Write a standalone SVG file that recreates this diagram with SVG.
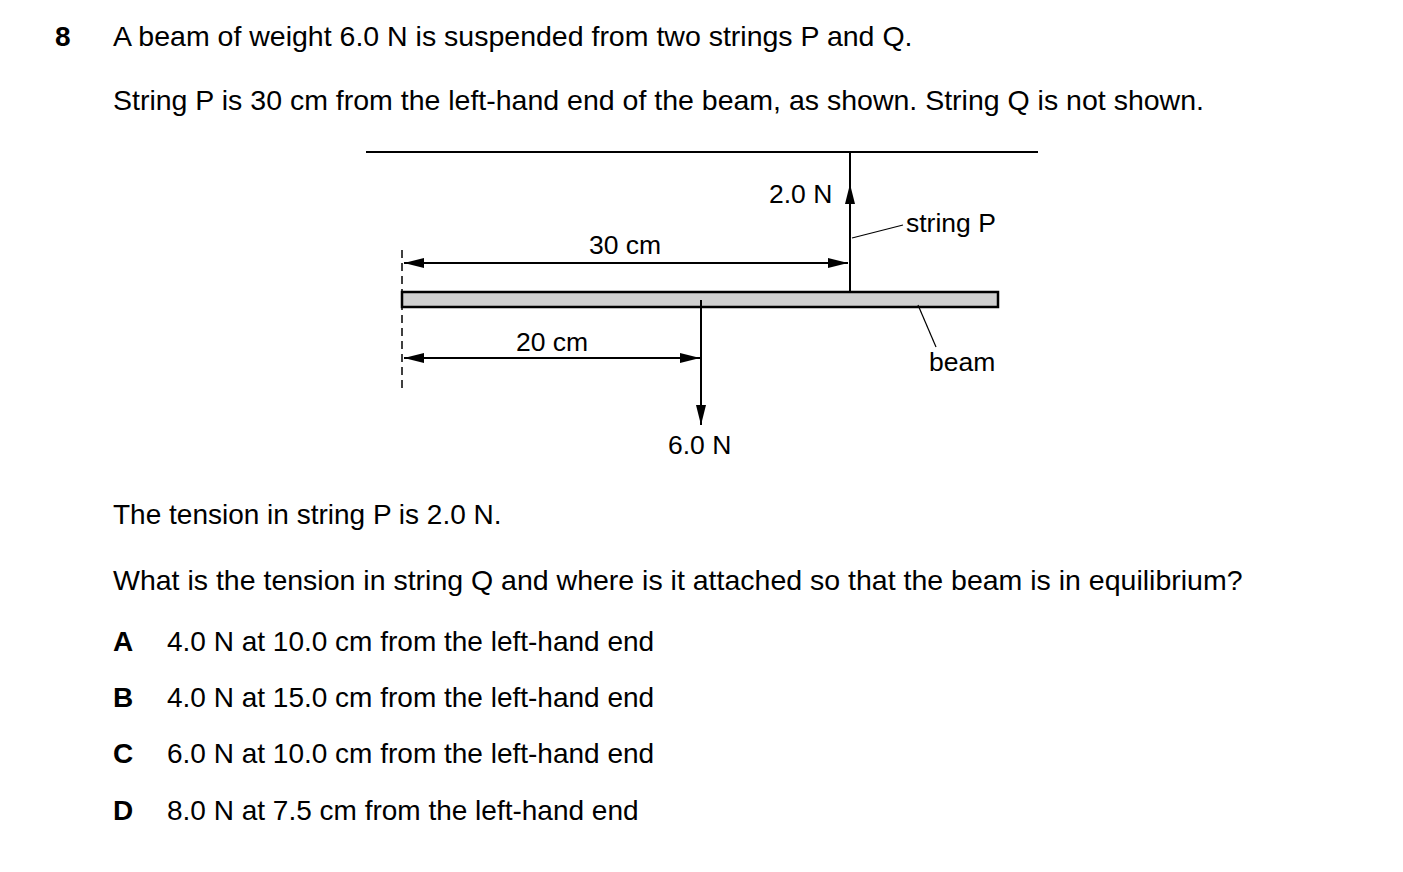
<svg xmlns="http://www.w3.org/2000/svg" width="1403" height="872" viewBox="0 0 1403 872">
<defs>
<marker id="ah" viewBox="0 0 20 10" refX="20" refY="5" markerWidth="20" markerHeight="10" markerUnits="userSpaceOnUse" orient="auto"><path d="M0,0 L20,5 L0,10 z" fill="#000"/></marker>
<style>
text{font-family:"Liberation Sans",Arial,sans-serif;font-size:28px;fill:#000}
.t{font-size:28.5px}
.l{font-size:26.5px}
.b{font-weight:bold}
.ln{stroke:#000;stroke-width:2;fill:none}
</style>
</defs>
<rect width="1403" height="872" fill="#fff"/>
<text x="55" y="46" class="b">8</text>
<text x="113" y="46" class="t">A beam of weight 6.0 N is suspended from two strings P and Q.</text>
<text x="113" y="110" class="t">String P is 30 cm from the left-hand end of the beam, as shown. String Q is not shown.</text>
<g id="ceiling"><line class="ln" x1="366" y1="152" x2="1038" y2="152"/></g>
<g id="beam"><rect x="402" y="292" width="596" height="15" fill="#d0d0d0" stroke="#000" stroke-width="2.5"/></g>
<g id="connectors">
<line class="ln" x1="850" y1="152" x2="850" y2="292"/>
<line class="ln" x1="850" y1="240" x2="850" y2="184" marker-end="url(#ah)"/>
<line x1="402" y1="250" x2="402" y2="392" stroke="#000" stroke-width="1.5" stroke-dasharray="8,5"/>
<line class="ln" x1="426" y1="263" x2="848" y2="263" marker-end="url(#ah)"/>
<line class="ln" x1="426" y1="263" x2="404" y2="263" marker-end="url(#ah)"/>
<line class="ln" x1="426" y1="358" x2="700" y2="358" marker-end="url(#ah)"/>
<line class="ln" x1="426" y1="358" x2="404" y2="358" marker-end="url(#ah)"/>
<line class="ln" x1="701" y1="300" x2="701" y2="425" marker-end="url(#ah)"/>
<line stroke="#000" stroke-width="1.2" x1="852" y1="238" x2="903" y2="225"/>
<line stroke="#000" stroke-width="1.2" x1="918" y1="305" x2="936" y2="347"/>
</g>
<g id="labels">
<text x="769" y="203" class="l">2.0 N</text>
<text x="906" y="232" class="l">string P</text>
<text x="589" y="254" class="l">30 cm</text>
<text x="516" y="351" class="l">20 cm</text>
<text x="929" y="371" class="l">beam</text>
<text x="668" y="454" class="l">6.0 N</text>
</g>
<text x="113" y="524">The tension in string P is 2.0 N.</text>
<text x="113" y="590" class="t">What is the tension in string Q and where is it attached so that the beam is in equilibrium?</text>
<text x="113" y="651" class="b">A</text><text x="167" y="651">4.0 N at 10.0 cm from the left-hand end</text>
<text x="113" y="707" class="b">B</text><text x="167" y="707">4.0 N at 15.0 cm from the left-hand end</text>
<text x="113" y="763" class="b">C</text><text x="167" y="763">6.0 N at 10.0 cm from the left-hand end</text>
<text x="113" y="820" class="b">D</text><text x="167" y="820">8.0 N at 7.5 cm from the left-hand end</text>
</svg>
